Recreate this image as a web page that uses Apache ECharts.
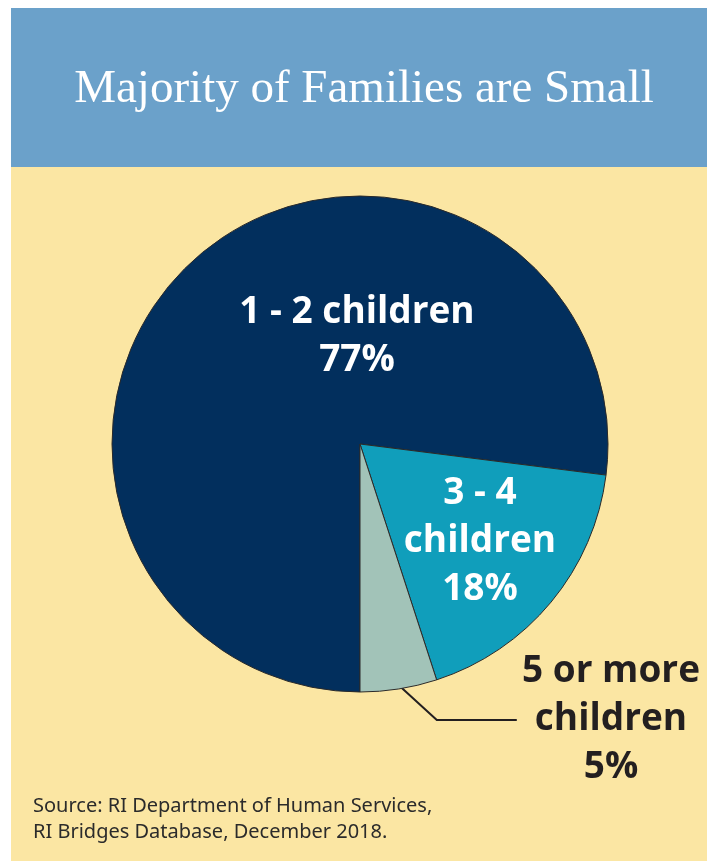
<!DOCTYPE html>
<html>
<head>
<meta charset="utf-8">
<title>Majority of Families are Small</title>
<script src="https://cdn.jsdelivr.net/npm/echarts@6/dist/echarts.min.js"></script>
<style>
  html, body { margin: 0; padding: 0; background: #ffffff; }
  #chart { width: 714px; height: 861px; }
</style>
</head>
<body>
<div id="chart"></div>
<script>
// Family size shares (percent of families)
const categories = ['1 - 2 children', '3 - 4\nchildren', '5 or more\nchildren'];
const shares = [77, 18, 5];
const sliceColors = ['#022f5d', '#109ebb', '#a2c3b8'];

const titleText = 'Majority of Families are Small';
const sourceLines = ['Source: RI Department of Human Services,', 'RI Bridges Database, December 2018.'];

// where each slice's label block is centred on the page
const labelSpots = [[357, 336], [480, 541], [611, 719]];

const chart = echarts.init(document.getElementById('chart'), null, { renderer: 'canvas' });

const option = {
  animation: false,
  title: {
    text: titleText,
    left: 359,
    textAlign: 'center',
    top: 61,
    textStyle: {
      fontFamily: '"Liberation Serif", "DejaVu Serif", serif',
      fontWeight: 'normal',
      fontSize: 47,
      color: '#ffffff'
    }
  },
  graphic: [
    { type: 'rect', z: -10, silent: true, shape: { x: 11, y: 8, width: 696, height: 160 }, style: { fill: '#6ba1ca' } },
    { type: 'rect', z: -10, silent: true, shape: { x: 11, y: 167, width: 696, height: 700 }, style: { fill: '#fbe6a3' } },
    {
      type: 'text', silent: true, x: 33, y: 793,
      style: {
        text: sourceLines.join('\n'),
        fontFamily: '"Noto Sans", sans-serif',
        fontSize: 20,
        lineHeight: 26,
        fill: '#2b2b2b'
      }
    }
  ],
  series: [{
    type: 'pie',
    center: [360, 444],
    radius: 248,
    startAngle: -90,
    clockwise: true,
    avoidLabelOverlap: false,
    silent: true,
    itemStyle: { borderColor: '#2a2a2a', borderWidth: 1 },
    label: {
      formatter: p => p.name + '\n' + p.value + '%',
      fontFamily: '"Open Sans", sans-serif',
      fontWeight: 'bold',
      fontSize: 37,
      lineHeight: 48,
      align: 'center'
    },
    labelLine: {
      show: true,
      length: 30,
      length2: 80,
      lineStyle: { color: '#231f20', width: 2 }
    },
    labelLayout: function (params) {
      const spot = labelSpots[params.dataIndex];
      const out = { x: spot[0], y: spot[1], align: 'center', verticalAlign: 'middle' };
      if (params.dataIndex === 2 && params.labelLinePoints) {
        const p0 = params.labelLinePoints[0];
        out.labelLinePoints = [
          [p0[0] + 3, p0[1] - 1],
          [p0[0] + 38, p0[1] + 31],
          [p0[0] + 118, p0[1] + 31]
        ];
      }
      return out;
    },
    data: categories.map((name, i) => ({
      name: name,
      value: shares[i],
      itemStyle: { color: sliceColors[i] },
      label: i < 2
        ? { position: 'inside', color: '#ffffff' }
        : { position: 'outside', color: '#231f20' },
      labelLine: { show: i === 2 }
    }))
  }]
};

chart.setOption(option);
</script>
</body>
</html>
